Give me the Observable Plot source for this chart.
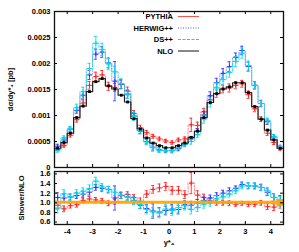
<!DOCTYPE html>
<html><head><meta charset="utf-8">
<script src="https://cdn.jsdelivr.net/npm/d3@7"></script>
<script src="https://cdn.jsdelivr.net/npm/@observablehq/plot@0.6"></script>
<style>
html,body{margin:0;padding:0;background:#fff;}
#chart{position:relative;width:299px;height:252px;overflow:hidden;background:#fff;}
#chart svg{position:absolute;left:0;}
</style></head><body><div id="chart"></div>
<script>
// ---- data (bins of width 0.25 from -4.5 to 4.5) ----
const binStart = -4.5, binWidth = 0.25;
const nlo    = [0.00037,0.00048,0.00066,0.00096,0.00118,0.00146,0.00165,0.00171,0.00157,0.00151,0.00139,0.00126,0.00094,0.00074,0.00057,0.00047,0.00042,0.00038,0.00038,0.00042,0.00047,0.00058,0.00070,0.00096,0.00125,0.00142,0.00151,0.00155,0.00163,0.00163,0.00144,0.00117,0.00093,0.00072,0.00053,0.00037];
const pythia = [0.00035,0.00042,0.00062,0.00092,0.00124,0.00158,0.00175,0.00178,0.00156,0.00154,0.00160,0.00147,0.00104,0.00076,0.00067,0.00060,0.00055,0.00051,0.00048,0.00053,0.00055,0.00082,0.00081,0.00107,0.00130,0.00142,0.00151,0.00153,0.00158,0.00161,0.00140,0.00113,0.00093,0.00066,0.00048,0.00036];
const herwig = [0.00041,0.00053,0.00074,0.00110,0.00139,0.00178,0.00218,0.00222,0.00201,0.00166,0.00160,0.00141,0.00099,0.00070,0.00050,0.00039,0.00034,0.00032,0.00033,0.00036,0.00045,0.00055,0.00069,0.00101,0.00138,0.00163,0.00181,0.00194,0.00212,0.00225,0.00194,0.00158,0.00123,0.00088,0.00059,0.00039];
const dspp   = [0.00033,0.00057,0.00074,0.00115,0.00146,0.00190,0.00239,0.00227,0.00199,0.00184,0.00161,0.00141,0.00098,0.00071,0.00049,0.00038,0.00033,0.00033,0.00032,0.00038,0.00044,0.00050,0.00063,0.00093,0.00125,0.00153,0.00169,0.00183,0.00204,0.00220,0.00196,0.00158,0.00123,0.00090,0.00059,0.00038];
// ratio panel (Shower/NLO)
const ratioPythia = [0.95,0.875,0.94,0.96,1.05,1.08,1.06,1.04,0.99,1.02,1.15,1.17,1.11,1.03,1.18,1.28,1.31,1.34,1.26,1.26,1.17,1.41,1.16,1.11,1.04,1.0,1.0,0.99,0.97,0.99,0.97,0.97,1.0,0.92,0.91,0.97];
const ratioHerwig = [1.11,1.10,1.12,1.15,1.18,1.22,1.32,1.30,1.28,1.10,1.15,1.12,1.05,0.95,0.88,0.83,0.81,0.84,0.87,0.86,0.96,0.95,0.99,1.05,1.10,1.15,1.20,1.25,1.30,1.38,1.35,1.35,1.32,1.22,1.11,1.05];
const ratioDs     = [0.89,1.19,1.12,1.20,1.24,1.30,1.45,1.33,1.27,1.22,1.16,1.12,1.04,0.96,0.86,0.81,0.79,0.87,0.84,0.90,0.94,0.86,0.90,0.97,1.00,1.08,1.12,1.18,1.25,1.35,1.36,1.35,1.32,1.25,1.11,1.03];
// uncertainties (in ratio units)
const errPythia = [0.08,0.06,0.05,0.05,0.05,0.05,0.05,0.05,0.05,0.05,0.06,0.06,0.06,0.07,0.07,0.08,0.08,0.08,0.08,0.08,0.08,0.22,0.09,0.07,0.06,0.05,0.05,0.05,0.04,0.04,0.05,0.05,0.05,0.06,0.07,0.08];
const errHerwig = [0.10,0.08,0.06,0.06,0.06,0.06,0.06,0.06,0.06,0.25,0.06,0.06,0.07,0.07,0.08,0.15,0.09,0.09,0.09,0.09,0.08,0.08,0.08,0.07,0.06,0.06,0.06,0.06,0.05,0.05,0.06,0.06,0.06,0.07,0.08,0.10];
const errDs     = [0.10,0.08,0.07,0.07,0.07,0.07,0.08,0.07,0.07,0.07,0.07,0.07,0.08,0.08,0.09,0.09,0.10,0.10,0.10,0.09,0.09,0.09,0.08,0.08,0.07,0.07,0.06,0.06,0.06,0.06,0.06,0.06,0.07,0.07,0.08,0.10];
const errNlo    = [0.03,0.03,0.03,0.03,0.03,0.03,0.03,0.03,0.03,0.03,0.03,0.03,0.03,0.03,0.03,0.03,0.03,0.03,0.03,0.03,0.03,0.03,0.03,0.03,0.03,0.03,0.03,0.03,0.03,0.03,0.03,0.03,0.03,0.03,0.04,0.07];
// ticks and labels
const xTicks = [-4,-3,-2,-1,0,1,2,3,4];
const yTicksMain = [0,0.0005,0.001,0.0015,0.002,0.0025,0.003];
const yTicksRatio = [0.6,0.8,1.0,1.2,1.4,1.6];
const seriesNames = ["PYTHIA","HERWIG++","DS++","NLO"];
const yTitleMain = "dσ/dy*₄ [pb]";
const yTitleRatio = "Shower/NLO";
const xTitle = "y*₄";

// ---- styles ----
const FONT = "'Liberation Sans', Arial, Helvetica, sans-serif";
const styles = {
  PYTHIA:    {line:"#ff4040", bar:"#ff2020", dash:"2,1.5", op:0.6},
  "HERWIG++":{line:"#5050ff", bar:"#3030ff", dash:"1,1.5", op:0.6},
  "DS++":    {line:"#00dada", bar:"#00d8e8", dash:"3,1.5", op:0.75},
  NLO:       {line:"#222", bar:"#000", dash:null, op:1}
};
const W = 299, ML = 54, MR = 16;
const FW = W - ML - MR;
const center = i => binStart + binWidth*(i+0.5);
const steps = vals => vals.flatMap((v,i)=>[{x:binStart+binWidth*i, y:v},{x:binStart+binWidth*(i+1), y:v}]);
const pts = (vals, errs, scaleArr) => vals.map((v,i)=>({x:center(i), y:v, lo:v-errs[i]*(scaleArr?scaleArr[i]:1), hi:v+errs[i]*(scaleArr?scaleArr[i]:1)}));
const capW = 0.06;

function seriesMarks(name, vals, errs, scaleArr) {
  const s = styles[name];
  const p = pts(vals, errs, scaleArr);
  return [
    Plot.line(steps(vals), {x:"x", y:"y", stroke:s.line, strokeWidth:1, strokeDasharray:s.dash, strokeOpacity:s.op}),
    Plot.ruleX(p, {x:"x", y1:"lo", y2:"hi", stroke:s.bar, strokeWidth:1, strokeOpacity:0.85}),
    Plot.ruleY(p, {y:"lo", x1:d=>d.x-capW, x2:d=>d.x+capW, stroke:s.bar, strokeWidth:1, strokeOpacity:0.85}),
    Plot.ruleY(p, {y:"hi", x1:d=>d.x-capW, x2:d=>d.x+capW, stroke:s.bar, strokeWidth:1, strokeOpacity:0.85}),
    Plot.dot(p, {x:"x", y:"y", symbol:"plus", r:1.6, stroke:s.bar, strokeWidth:1})
  ];
}
function frameTicks(yt, xt, fh) {
  return [
    Plot.ruleY(yt, {y:d=>d, insetRight:FW-3, stroke:"#000"}),
    Plot.ruleY(yt, {y:d=>d, insetLeft:FW-3, stroke:"#000"}),
    Plot.ruleX(xt, {x:d=>d, insetTop:fh-3, stroke:"#000"}),
    Plot.ruleX(xt, {x:d=>d, insetBottom:fh-3, stroke:"#000"})
  ];
}

// ---- main panel ----
const MT1 = 11, MB1 = 7, H1 = 174;
const main = Plot.plot({
  width: W, height: H1, marginLeft: ML, marginRight: MR, marginTop: MT1, marginBottom: MB1,
  style: {fontFamily: FONT, fontSize: "7.5px", fontWeight: "bold", color:"#000", background:"transparent"},
  x: {domain: [-4.5, 4.5], axis: null},
  y: {domain: [0, 0.003], ticks: yTicksMain, tickSize: 0, tickPadding: 4, tickFormat: d => String(d), label: null},
  marks: [
    ...seriesMarks("PYTHIA", pythia, errPythia, nlo),
    ...seriesMarks("HERWIG++", herwig, errHerwig, nlo),
    ...seriesMarks("DS++", dspp, errDs, nlo),
    Plot.line(steps(nlo), {x:"x", y:"y", stroke:styles.NLO.line, strokeWidth:1.2}),
    Plot.dot(nlo.map((v,i)=>({x:center(i), y:v})), {x:"x", y:"y", symbol:"square", r:1.6, fill:"#000"}),
    ...frameTicks(yTicksMain, xTicks, H1-MT1-MB1),
    Plot.frame({stroke:"#111", strokeWidth:1.3}),
    Plot.text([yTitleMain], {text:d=>d, frameAnchor:"left", textAnchor:"middle", dx:-44, rotate:-90, fontSize:7.5, fontWeight:"bold", fill:"#000"})
  ]
});
main.style.top = "0px";

// ---- ratio panel ----
const MT2 = 1, MB2 = 28, H2 = 82;
const ratio = Plot.plot({
  width: W, height: H2, marginLeft: ML, marginRight: MR, marginTop: MT2, marginBottom: MB2,
  style: {fontFamily: FONT, fontSize: "7.5px", fontWeight: "bold", color:"#000", background:"transparent"},
  x: {domain: [-4.5, 4.5], ticks: xTicks, tickSize: 0, tickPadding: 4, tickFormat: d => String(d), label: null},
  y: {domain: [0.55, 1.65], ticks: yTicksRatio, tickSize: 0, tickPadding: 4, tickFormat: d3.format(".1f"), label: null},
  marks: [
    ...seriesMarks("PYTHIA", ratioPythia, errPythia),
    ...seriesMarks("HERWIG++", ratioHerwig, errHerwig),
    ...seriesMarks("DS++", ratioDs, errDs),
    Plot.areaY(errNlo.flatMap((e,i)=>[{x:binStart+binWidth*i, lo:1-e, hi:1+e},{x:binStart+binWidth*(i+1), lo:1-e, hi:1+e}]),
      {x:"x", y1:"lo", y2:"hi", fill:"#ffa500", fillOpacity:0.95}),
    ...frameTicks(yTicksRatio, xTicks, H2-MT2-MB2),
    Plot.frame({stroke:"#111", strokeWidth:1.3}),
    Plot.text([yTitleRatio], {text:d=>d, frameAnchor:"left", textAnchor:"middle", dx:-33, rotate:-90, fontSize:7.5, fontWeight:"bold", fill:"#000"}),
    Plot.text([xTitle], {text:d=>d, frameAnchor:"bottom", lineAnchor:"middle", dy:18, fontSize:7.5, fontWeight:"bold", fill:"#000"})
  ]
});
ratio.style.top = "170px";

const chart = document.getElementById("chart");
chart.appendChild(main);
chart.appendChild(ratio);

// ---- legend (inside upper-right of main panel) ----
const leg = d3.select(chart).append("svg")
  .attr("width", W).attr("height", 70)
  .style("position","absolute").style("top","0px").style("left","0px")
  .style("pointer-events","none");
const legLineStyle = {
  PYTHIA: {stroke:"#ff5050", dash:null, w:1},
  "HERWIG++": {stroke:"#5050ff", dash:"1,1.5", w:1},
  "DS++": {stroke:"#00dada", dash:"3,1.5", w:1},
  NLO: {stroke:"#888", dash:null, w:2}
};
seriesNames.forEach((n,i)=>{
  const y = 16.5 + i*11.5;
  leg.append("text").attr("x",173).attr("y",y).attr("dy","0.35em")
    .attr("text-anchor","end").attr("font-family",FONT).attr("font-size",7.5).attr("font-weight","bold").text(n);
  leg.append("line").attr("x1",178).attr("x2",199).attr("y1",y).attr("y2",y)
    .attr("stroke",legLineStyle[n].stroke).attr("stroke-width",legLineStyle[n].w)
    .attr("stroke-dasharray",legLineStyle[n].dash);
});
</script></body></html>
